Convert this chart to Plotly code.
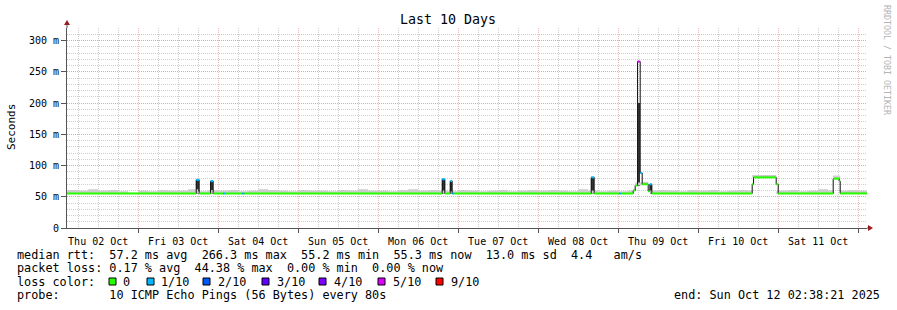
import plotly.graph_objects as go
import pandas as pd

# ---------------- data ----------------
T_START = "2025-10-02 02:38:21"
T_END = "2025-10-12 02:38:21"

loss_labels = ["0", "1/10", "2/10", "3/10", "4/10", "5/10", "9/10"]
loss_colors = ["#26ff00", "#00b8ff", "#0059ff", "#5e00ff", "#7e00ff", "#dd00ff", "#ff0000"]

# median rtt (ms), step series: value holds from its time until the next time
median_times = [
    "2025-10-02 02:38", "2025-10-03 17:24", "2025-10-03 18:18", "2025-10-03 21:42",
    "2025-10-03 22:30", "2025-10-04 01:30", "2025-10-04 02:06", "2025-10-04 07:12",
    "2025-10-04 07:48", "2025-10-06 19:12", "2025-10-06 20:00", "2025-10-06 21:36",
    "2025-10-06 22:12", "2025-10-06 22:48", "2025-10-08 15:54", "2025-10-08 16:48",
    "2025-10-09 00:18", "2025-10-09 00:54", "2025-10-09 04:30", "2025-10-09 05:06",
    "2025-10-09 05:48", "2025-10-09 06:36", "2025-10-09 07:12", "2025-10-09 09:00",
    "2025-10-09 09:30", "2025-10-09 10:06", "2025-10-10 16:12", "2025-10-10 16:36",
    "2025-10-10 23:24", "2025-10-11 00:00", "2025-10-11 16:30", "2025-10-11 18:18",
    "2025-10-11 18:36",
]
median_values = [
    55.2, 77, 55.2, 75,
    55.2, 55.2, 55.2, 55.2,
    55.2, 78, 55.2, 75,
    55.2, 55.2, 81, 55.2,
    55.2, 55.2, 60, 68,
    266.3, 88, 70, 59,
    70, 55.2, 70, 81,
    70, 55.2, 79, 75,
    55.3,
]
median_loss = [
    0, 1, 0, 1,
    0, 1, 0, 1,
    0, 1, 0, 1,
    1, 0, 1, 0,
    1, 0, 0, 0,
    5, 1, 0, 0,
    1, 0, 0, 0,
    0, 0, 0, 0,
    0,
]

# light smoke band (ms): lower / upper edge, step series
smoke_times = [
    "2025-10-02 00:00", "2025-10-02 03:00", "2025-10-02 06:00", "2025-10-02 09:00",
    "2025-10-02 12:00", "2025-10-02 15:00", "2025-10-02 18:00", "2025-10-02 21:00",
    "2025-10-03 00:00", "2025-10-03 03:00", "2025-10-03 06:00", "2025-10-03 09:00",
    "2025-10-03 12:00", "2025-10-03 15:00", "2025-10-03 18:00", "2025-10-03 21:00",
    "2025-10-04 00:00", "2025-10-04 03:00", "2025-10-04 06:00", "2025-10-04 09:00",
    "2025-10-04 12:00", "2025-10-04 15:00", "2025-10-04 18:00", "2025-10-04 21:00",
    "2025-10-05 00:00", "2025-10-05 03:00", "2025-10-05 06:00", "2025-10-05 09:00",
    "2025-10-05 12:00", "2025-10-05 15:00", "2025-10-05 18:00", "2025-10-05 21:00",
    "2025-10-06 00:00", "2025-10-06 03:00", "2025-10-06 06:00", "2025-10-06 09:00",
    "2025-10-06 12:00", "2025-10-06 15:00", "2025-10-06 18:00", "2025-10-06 21:00",
    "2025-10-07 00:00", "2025-10-07 03:00", "2025-10-07 06:00", "2025-10-07 09:00",
    "2025-10-07 12:00", "2025-10-07 15:00", "2025-10-07 18:00", "2025-10-07 21:00",
    "2025-10-08 00:00", "2025-10-08 03:00", "2025-10-08 06:00", "2025-10-08 09:00",
    "2025-10-08 12:00", "2025-10-08 15:00", "2025-10-08 18:00", "2025-10-08 21:00",
    "2025-10-09 00:00", "2025-10-09 03:00", "2025-10-09 04:30", "2025-10-09 05:06",
    "2025-10-09 07:12", "2025-10-09 09:00", "2025-10-09 09:36", "2025-10-09 12:00",
    "2025-10-09 15:00", "2025-10-09 18:00", "2025-10-09 21:00",
    "2025-10-10 00:00", "2025-10-10 03:00", "2025-10-10 06:00", "2025-10-10 09:00",
    "2025-10-10 12:00", "2025-10-10 15:00", "2025-10-10 16:12", "2025-10-10 23:24",
    "2025-10-11 00:00", "2025-10-11 03:00", "2025-10-11 06:00", "2025-10-11 09:00",
    "2025-10-11 12:00", "2025-10-11 15:00", "2025-10-11 16:30", "2025-10-11 18:36",
    "2025-10-11 21:00", "2025-10-12 00:00", "2025-10-12 02:39",
]
smoke_low = [
    55, 55, 55, 55, 55, 55, 55, 55,
    55, 55, 55, 55, 55, 55, 55, 55,
    55, 55, 55, 55, 55, 55, 55, 55,
    55, 55, 55, 55, 55, 55, 55, 55,
    55, 55, 55, 55, 55, 55, 55, 55,
    55, 55, 55, 55, 55, 55, 55, 55,
    55, 55, 55, 55, 55, 55, 55, 55,
    55, 55, 60, 68, 70, 59, 55, 55,
    55, 55, 55,
    55, 55, 55, 55, 55, 55, 81, 55,
    55, 55, 55, 55, 55, 55, 79, 55,
    55, 55, 55,
]
smoke_high = [
    60, 61, 60, 62, 60, 61, 59, 57,
    60, 59, 61, 60, 60, 62, 59, 61,
    60, 61, 59, 60, 62, 61, 60, 59,
    61, 60, 60, 59, 61, 60, 62, 60,
    60, 59, 61, 62, 60, 61, 60, 59,
    61, 60, 59, 60, 61, 59, 60, 61,
    60, 61, 60, 59, 62, 60, 59, 60,
    59, 60, 63, 73, 74, 62, 60, 61,
    60, 59, 61,
    60, 61, 59, 60, 61, 60, 85, 59,
    60, 61, 59, 60, 62, 60, 84, 60,
    61, 60, 60,
]

# dense smoke at the spikes (ms)
spike_start = ["2025-10-03 17:24", "2025-10-03 21:42", "2025-10-06 19:12", "2025-10-06 21:36",
               "2025-10-08 15:54", "2025-10-09 05:48", "2025-10-09 09:30"]
spike_end = ["2025-10-03 18:18", "2025-10-03 22:30", "2025-10-06 20:00", "2025-10-06 22:12",
             "2025-10-08 16:48", "2025-10-09 06:36", "2025-10-09 10:06"]
spike_low = [55, 55, 55, 55, 55, 68, 55]
spike_top = [77, 75, 78, 75, 81, 200, 70]

y_ticks = [0, 50, 100, 150, 200, 250, 300]
y_ticktext = ["0", "50 m", "100 m", "150 m", "200 m", "250 m", "300 m"]

title_text = "Last 10 Days"
legend_lines = [
    "median rtt:  57.2 ms avg  266.3 ms max  55.2 ms min  55.3 ms now  13.0 ms sd  4.4   am/s",
    "packet loss: 0.17 % avg  44.38 % max  0.00 % min  0.00 % now",
    "loss color:",
    "probe:       10 ICMP Echo Pings (56 Bytes) every 80s",
]
end_text = "end: Sun Oct 12 02:38:21 2025"

# ---------------- layout helpers ----------------
W, H = 897, 310
L, R, T, B = 67, 30, 28, 82
PW, PH = W - L - R, H - T - B
FONT = "DejaVu Sans Mono"


def px(x):
    return (x - L) / PW


def py(y):
    return (H - B - y) / PH


def nb(s):
    return s.replace(" ", "\u00a0")


MAJ = "#eba4a4"
MAJX = "#f1bcbc"
MIN = "#cfcfcf"

# minor grid positions, skipping the major ones
x_minor = [t for t in pd.date_range("2025-10-02 00:00", "2025-10-12 06:00", freq="6h") if t.hour != 0]
y_minor = [v for v in range(0, 330, 10) if v % 50 != 0]

fig = go.Figure()

# light smoke
fig.add_trace(go.Scatter(x=smoke_times, y=smoke_low, mode="lines",
                         line=dict(width=0, shape="hv"), hoverinfo="skip", showlegend=False))
fig.add_trace(go.Scatter(x=smoke_times, y=smoke_high, mode="lines", fill="tonexty",
                         fillcolor="#cdcdcd", line=dict(width=0, shape="hv"),
                         hoverinfo="skip", showlegend=False))

# dense smoke spikes
s0 = pd.to_datetime(spike_start)
s1 = pd.to_datetime(spike_end)
mid = s0 + (s1 - s0) / 2
widths = [(b - a).total_seconds() * 1000 for a, b in zip(s0, s1)]
fig.add_trace(go.Bar(x=mid, y=[t - l for t, l in zip(spike_top, spike_low)], base=spike_low,
                     width=widths, marker=dict(color="#333333", line=dict(width=0)),
                     hoverinfo="skip", showlegend=False))

# median: black step outline
fig.add_trace(go.Scatter(x=median_times + [T_END], y=median_values + [median_values[-1]],
                         mode="lines", line=dict(color="#111111", width=1, shape="hv"),
                         hoverinfo="skip", showlegend=False))

# median: colored horizontal parts by loss
ends = median_times[1:] + [T_END]
for k, col in enumerate(loss_colors):
    xs, ys = [], []
    for t0, t1, v, lo in zip(median_times, ends, median_values, median_loss):
        if lo == k:
            xs += [t0, t1, None]
            ys += [v, v, None]
    if xs:
        fig.add_trace(go.Scatter(x=xs, y=ys, mode="lines", line=dict(color=col, width=2),
                                 hoverinfo="skip", showlegend=False))

fig.update_layout(
    width=W, height=H, margin=dict(l=L, r=R, t=T, b=B, pad=0),
    paper_bgcolor="white", plot_bgcolor="white", showlegend=False,
    font=dict(family=FONT, size=10, color="black"),
    bargap=0,
    xaxis=dict(
        type="date", range=[T_START, T_END], dtick=86400000, tick0="2025-10-02 00:00",
        tickformat="%a %d %b", ticklabelmode="period",
        showgrid=False,
        ticks="outside", ticklen=4, tickcolor="#555555",
        showline=True, linecolor="#555555", linewidth=1, zeroline=False,
        tickfont=dict(family=FONT, size=10, color="black"),
        minor=dict(tickmode="array", tickvals=x_minor, showgrid=True,
                   gridcolor=MIN, griddash="1px,1px", gridwidth=1, ticks=""),
        fixedrange=True,
    ),
    # overlay axis carrying only the day (midnight) grid
    xaxis2=dict(
        type="date", range=[T_START, T_END], dtick=86400000, tick0="2025-10-02 00:00",
        overlaying="x", anchor="y", side="bottom",
        showgrid=True, gridcolor=MAJX, griddash="1px,1px", gridwidth=1,
        showticklabels=False, ticks="", showline=False, zeroline=False,
        fixedrange=True,
    ),
    yaxis=dict(
        range=[0, 320], tickvals=y_ticks, ticktext=y_ticktext,
        showgrid=True, gridcolor=MAJ, griddash="1px,1px", gridwidth=1,
        ticks="outside", ticklen=5, tickcolor="#555555",
        showline=True, linecolor="#555555", linewidth=1, zeroline=False,
        tickfont=dict(family=FONT, size=10, color="black"),
        minor=dict(tickmode="array", tickvals=y_minor, showgrid=True, gridcolor=MIN,
                   griddash="1px,1px", gridwidth=1, ticks=""),
        fixedrange=True,
    ),
)
# an empty trace so the overlay axis is laid out
fig.add_trace(go.Scatter(x=[], y=[], xaxis="x2", yaxis="y", hoverinfo="skip", showlegend=False))

shapes = []
ann = []
ann.append(dict(text=title_text, x=px(448), y=py(19), xref="paper", yref="paper",
                xanchor="center", yanchor="middle", showarrow=False,
                font=dict(family=FONT, size=13.3, color="black")))
ann.append(dict(text="Seconds", x=px(11), y=py(127), xref="paper", yref="paper",
                xanchor="center", yanchor="middle", textangle=-90, showarrow=False,
                font=dict(family=FONT, size=11, color="black")))
ann.append(dict(text=nb("RRDTOOL / TOBI OETIKER"), x=px(887), y=py(60), xref="paper",
                yref="paper", xanchor="center", yanchor="middle", textangle=90,
                showarrow=False, font=dict(family=FONT, size=8.3, color="#b4b4b4")))
row_y = [255, 268, 282, 295]
for line, yy in zip(legend_lines, row_y):
    ann.append(dict(text=nb(line), x=px(15), y=py(yy), xref="paper", yref="paper",
                    xanchor="left", yanchor="middle", showarrow=False,
                    font=dict(family=FONT, size=11.8, color="black")))
ann.append(dict(text=nb(end_text), x=px(882), y=py(295), xref="paper", yref="paper",
                xanchor="right", yanchor="middle", showarrow=False,
                font=dict(family=FONT, size=11.8, color="black")))

sq_left = [109, 147, 203, 262, 319, 378, 436]
lab_left = [121, 159, 216, 275, 332, 391, 449]
for sl, ll, lab, col in zip(sq_left, lab_left, loss_labels, loss_colors):
    shapes.append(dict(type="rect", xref="paper", yref="paper", x0=px(sl), x1=px(sl + 7),
                       y0=py(285), y1=py(278), fillcolor=col, line=dict(color="black", width=1)))
    ann.append(dict(text=lab, x=px(ll), y=py(282), xref="paper", yref="paper",
                    xanchor="left", yanchor="middle", showarrow=False,
                    font=dict(family=FONT, size=11.8, color="black")))

# axis extensions and arrows
shapes.append(dict(type="line", xref="paper", yref="paper", x0=px(67), x1=px(67),
                   y0=py(28), y1=py(24), line=dict(color="#555555", width=1)))
shapes.append(dict(type="line", xref="paper", yref="paper", x0=px(867), x1=px(869),
                   y0=py(228), y1=py(228), line=dict(color="#555555", width=1)))
shapes.append(dict(type="path", xref="paper", yref="paper",
                   path=f"M {px(64)} {py(25)} L {px(70)} {py(25)} L {px(67)} {py(20)} Z",
                   fillcolor="#9b1c1c", line=dict(width=0)))
shapes.append(dict(type="path", xref="paper", yref="paper",
                   path=f"M {px(868)} {py(225)} L {px(868)} {py(231)} L {px(873)} {py(228)} Z",
                   fillcolor="#9b1c1c", line=dict(width=0)))

fig.update_layout(annotations=ann, shapes=shapes)
fig.write_html("out.html")
